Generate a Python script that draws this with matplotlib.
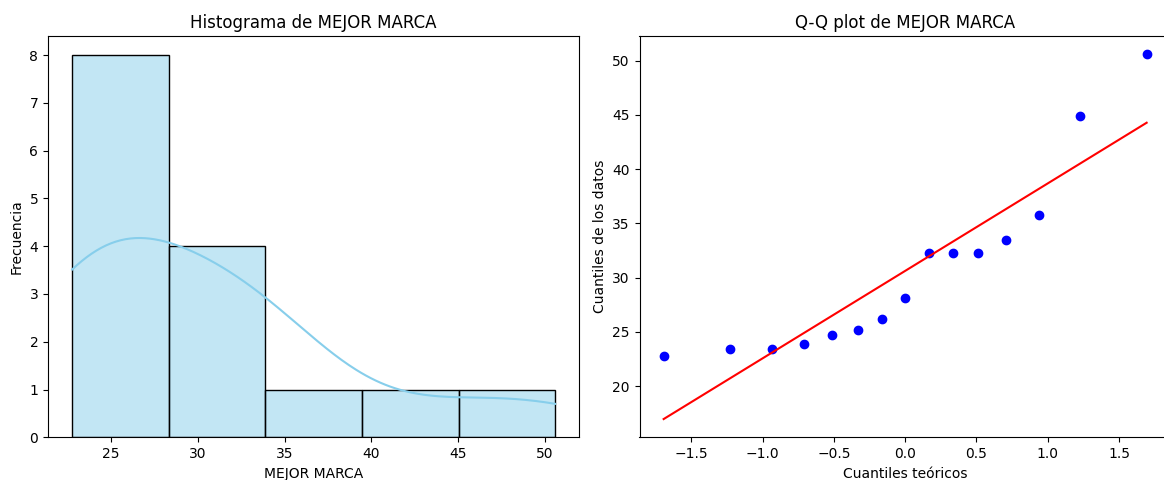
import numpy as np
import matplotlib
matplotlib.use("Agg")
import matplotlib.pyplot as plt
import seaborn as sns
from statistics import NormalDist

# valores (15 marcas)
mejor_marca = [22.75, 23.4, 23.4, 23.85, 24.7, 25.2, 26.2, 28.15,
               32.3, 32.3, 32.3, 33.5, 35.75, 44.95, 50.6]
columna = "MEJOR MARCA"

datos = np.sort(np.array(mejor_marca))
n = len(datos)

# cuantiles teoricos (mismo metodo que scipy.stats.probplot)
m = np.empty(n)
m[-1] = 0.5 ** (1.0 / n)
m[0] = 1 - m[-1]
i = np.arange(2, n)
m[1:-1] = (i - 0.3175) / (n + 0.365)
osm = np.array([NormalDist().inv_cdf(p) for p in m])
pendiente, intercepto = np.polyfit(osm, datos, 1)

W, H = 1164, 480
fig = plt.figure(figsize=(W / 100, H / 100), dpi=100)
# posiciones medidas en la imagen de referencia (el panel derecho queda recortado)
ax1 = fig.add_axes([48 / W, 42.7 / H, 531.3 / W, 401.3 / H])
ax2 = fig.add_axes([639.5 / W, 42.7 / H, 531.3 / W, 401.3 / H])

sns.histplot(datos, bins=5, kde=True, color="skyblue", edgecolor="black", ax=ax1)
ax1.set_title(f"Histograma de {columna}")
ax1.set_xlabel(columna)
ax1.set_ylabel("Frecuencia")

ax2.plot(osm, datos, "o", color="blue")
ax2.plot(osm, pendiente * osm + intercepto, "r-")
ax2.set_title(f"Q-Q plot de {columna}")
ax2.set_xlabel("Cuantiles teóricos")
ax2.set_ylabel("Cuantiles de los datos")

plt.savefig("out.png")
